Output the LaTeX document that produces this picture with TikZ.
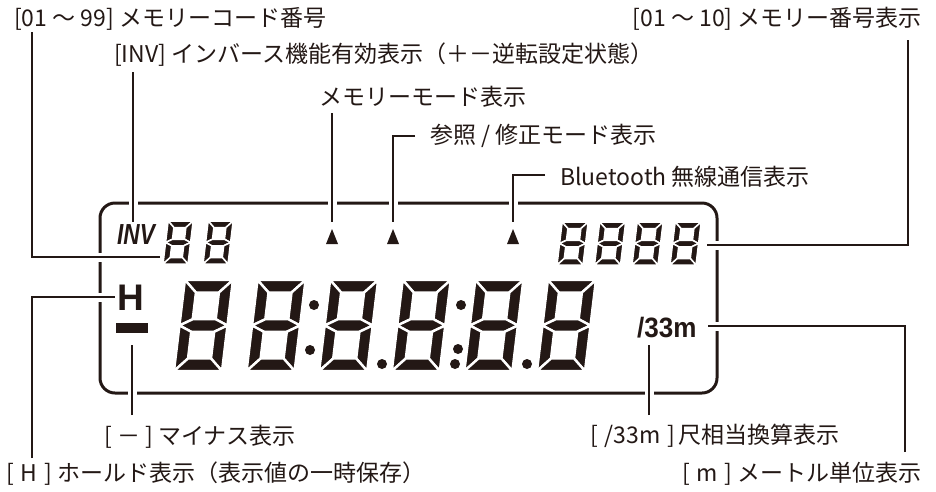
\documentclass[tikz,border=0pt]{standalone}
\usepackage{fontspec}
\usepackage{graphicx}
\setmainfont{Noto Sans CJK JP}
\newfontfamily\lcdfont{Liberation Sans}
\definecolor{ink}{HTML}{231815}
\tikzset{
  lbl/.style={font=\fontsize{23}{23}\selectfont, text=ink, inner sep=0pt},
  leader/.style={draw=ink, line width=1.3pt, preaction={draw=white, line width=9pt}},
  lcdframe/.style={draw=ink, line width=3pt, rounded corners=15pt},
  lcdseg/.style={fill=ink, draw=white, line join=round},
  marker/.style={fill=ink},
}
\newcommand\lcdeight[7]{% x0 y0 W H t slant gap
 \begin{scope}[shift={(#1,#2)}, x={(1pt,0pt)}, y={(#6pt,1pt)}, line width=#7pt]
  \def\dW{#3}\def\dH{#4}\def\dT{#5}%
  \pgfmathsetmacro\dM{#4/2}%
  \pgfmathsetmacro\dHT{#5/2}%
  \path[lcdseg] (0,\dH) -- (\dW,\dH) -- ({\dW-\dT},{\dH-\dT}) -- (\dT,{\dH-\dT}) -- cycle;
  \path[lcdseg] (0,\dH) -- (\dT,{\dH-\dT}) -- (\dT,{\dM+\dHT}) -- (0,\dM) -- cycle;
  \path[lcdseg] (\dW,\dH) -- (\dW,\dM) -- ({\dW-\dT},{\dM+\dHT}) -- ({\dW-\dT},{\dH-\dT}) -- cycle;
  \path[lcdseg] (0,\dM) -- (\dT,{\dM+\dHT}) -- ({\dW-\dT},{\dM+\dHT}) -- (\dW,\dM) -- ({\dW-\dT},{\dM-\dHT}) -- (\dT,{\dM-\dHT}) -- cycle;
  \path[lcdseg] (0,\dM) -- (\dT,{\dM-\dHT}) -- (\dT,\dT) -- (0,0) -- cycle;
  \path[lcdseg] (\dW,\dM) -- (\dW,0) -- ({\dW-\dT},\dT) -- ({\dW-\dT},{\dM-\dHT}) -- cycle;
  \path[lcdseg] (0,0) -- (\dW,0) -- ({\dW-\dT},\dT) -- (\dT,\dT) -- cycle;
 \end{scope}}
\begin{document}
\begin{tikzpicture}[x=1pt,y=-1pt]
\useasboundingbox[fill=white] (0,0) rectangle (936,491);

% labels
\node[lbl, anchor=west] (lbl1) at (14,19) {[01 ～ 99] メモリーコード番号};
\node[lbl, anchor=west] (lbl2) at (114,55) {[INV] インバース機能有効表示（＋－逆転設定状態）};
\node[lbl, anchor=west] (lbl3) at (319,97) {メモリーモード表示};
\node[lbl, anchor=west] (lbl4) at (430,136) {参照 / 修正モード表示};
\node[lbl, anchor=west] (lbl5) at (560,177) {Bluetooth 無線通信表示};
\node[lbl, anchor=east] (lbl6) at (922,19) {[01 ～ 10] メモリー番号表示};
\node[lbl, anchor=west] (lbl7) at (104,437) {[ － ] マイナス表示};
\node[lbl, anchor=west] (lbl8) at (6,474) {[\hspace{0.3em}H\hspace{0.3em}] ホールド表示（表示値の一時保存）};
\node[lbl, anchor=west] (lbl9) at (590,436) {[\hspace{0.3em}/33m\hspace{0.3em}]\hspace{0.15em}尺相当換算表示};
\node[lbl, anchor=east] (lbl10) at (922,474) {[\hspace{0.3em}m\hspace{0.3em}] メートル単位表示};

% frame
\draw[lcdframe] (100,203) rectangle (717,393);

% leader coordinates
\coordinate (a1) at (32,32);   \coordinate (a2) at (32,257);  \coordinate (a3) at (160,257);
\coordinate (b1) at (133,72);  \coordinate (b2) at (133,222);
\coordinate (c1) at (332,113); \coordinate (c2) at (332,222);
\coordinate (d1) at (415,136); \coordinate (d2) at (393,136); \coordinate (d3) at (393,222);
\coordinate (e1) at (545,175); \coordinate (e2) at (513,175); \coordinate (e3) at (513,222);
\coordinate (f1) at (908,40);  \coordinate (f2) at (908,245); \coordinate (f3) at (707,245);
\coordinate (g1) at (32,458);  \coordinate (g2) at (32,297);  \coordinate (g3) at (115,297);
\coordinate (h1) at (132,415); \coordinate (h2) at (132,345);
\coordinate (i1) at (649,415); \coordinate (i2) at (649,345);
\coordinate (j1) at (905,452); \coordinate (j2) at (905,326); \coordinate (j3) at (708,326);

\draw[leader] (a1) -- (a2) -- (a3);
\draw[leader] (b1) -- (b2);
\draw[leader] (c1) -- (c2);
\draw[leader] (d1) -- (d2) -- (d3);
\draw[leader] (e1) -- (e2) -- (e3);
\draw[leader] (f1) -- (f2) -- (f3);
\draw[leader] (g1) -- (g2) -- (g3);
\draw[leader] (h1) -- (h2);
\draw[leader] (i1) -- (i2);
\draw[leader] (j1) -- (j2) -- (j3);

% triangles
\foreach \tx in {332,393,513}{
  \fill[marker] (\tx,229) -- (\tx+6,244) -- (\tx-6,244) -- cycle;
}

% INV, H, minus, /33m
\node[inner sep=0pt, anchor=base, text=ink] (inv) at (136,244) {\scalebox{0.78}[1]{\fontsize{29}{29}\selectfont\lcdfont\bfseries\itshape INV}};
\node[inner sep=0pt, anchor=base, text=ink] (hold) at (131,310) {\fontsize{37}{37}\selectfont\lcdfont\bfseries H};
\node[marker, inner sep=0pt, minimum width=32pt, minimum height=10pt] (minusbar) at (132,328) {};
\node[inner sep=0pt, anchor=base west, text=ink] (m33) at (637,337) {\scalebox{0.93}[1]{\fontsize{28}{28}\selectfont\lcdfont\bfseries /33m}};

% small digits
\lcdeight{163}{264}{25}{43}{6.5}{0.12}{1.5}
\lcdeight{203}{264}{25}{43}{6.5}{0.12}{1.5}
\foreach \dx in {557,594.5,632,670}{
  \lcdeight{\dx}{265}{26}{43}{6.5}{0.12}{1.5}
}
% big digits
\foreach \dx in {174,246.6,319.2,391.8,464.4,537}{
  \lcdeight{\dx}{371}{48}{91}{12.5}{0.12}{2.4}
}
% colons and dots
\fill[marker] (314,305) circle (5) (310,350) circle (5);
\fill[marker] (382,364) circle (5);
\fill[marker] (461,305) circle (5) (458,349) circle (5) (455,364) circle (5);
\fill[marker] (527,364) circle (5);
\end{tikzpicture}
\end{document}
